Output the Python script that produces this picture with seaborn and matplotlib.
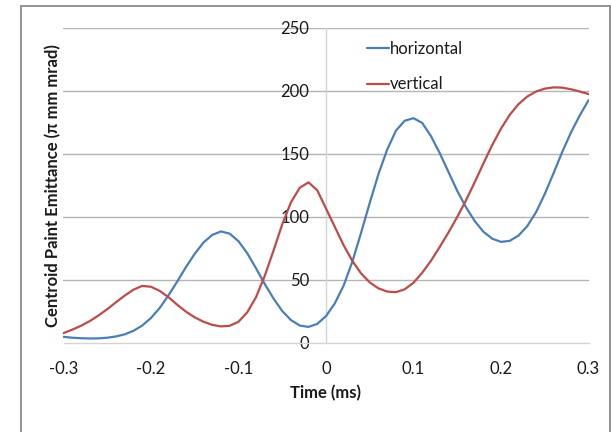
import numpy as np
import pandas as pd
import matplotlib
matplotlib.use("Agg")
import matplotlib.pyplot as plt
from matplotlib.patches import Rectangle
import seaborn as sns

# Time axis (ms) and centroid paint emittance (pi mm mrad) for each plane
time_ms = [round(-0.30 + 0.01 * i, 2) for i in range(61)]

horizontal = [
    4.5, 3.8, 3.4, 3.2, 3.3, 3.8, 4.8, 6.5, 9.3, 13.5,
    19.5, 27.5, 37.5, 48.5, 60.0, 70.5, 79.5, 85.5, 88.3, 86.5,
    80.5, 71.0, 59.0, 46.5, 35.0, 25.0, 17.8, 13.5, 12.4, 14.8,
    21.0, 31.0, 45.0, 64.0, 87.0, 111.0, 134.0, 153.5, 168.5, 176.3,
    178.3, 174.5, 164.0, 150.5, 135.5, 120.5, 107.5, 96.5, 88.0, 82.5,
    80.0, 80.8, 85.0, 92.5, 103.5, 118.0, 134.5, 151.5, 167.0, 180.5,
    192.5,
]

vertical = [
    7.5, 10.2, 13.3, 17.0, 21.5, 26.5, 32.0, 37.3, 42.0, 45.0,
    44.3, 41.0, 36.0, 30.0, 24.5, 20.0, 16.5, 14.0, 12.8, 13.3,
    16.5, 24.0, 36.0, 53.0, 73.0, 94.0, 111.5, 123.0, 127.3, 121.0,
    106.5, 92.0, 77.5, 65.0, 55.0, 47.8, 43.0, 40.5, 40.0, 42.3,
    47.5, 55.5, 65.0, 76.0, 87.5, 99.8, 113.0, 127.5, 142.5, 157.0,
    170.0, 181.0, 189.5, 195.5, 199.5, 201.8, 202.8, 202.6, 201.3, 199.5,
    197.5,
]

series_names = ["horizontal", "vertical"]
series_colors = ["#4A7EBB", "#BE4B48"]
x_ticks = [-0.3, -0.2, -0.1, 0.0, 0.1, 0.2, 0.3]
x_tick_labels = ["-0.3", "-0.2", "-0.1", "0", "0.1", "0.2", "0.3"]
y_ticks = [0, 50, 100, 150, 200, 250]

sns.set_style("white")
plt.rcParams["font.family"] = ["Lato", "DejaVu Sans"]

df = pd.DataFrame({
    "Time (ms)": time_ms * 2,
    "Emittance": horizontal + vertical,
    "plane": ["horizontal"] * len(time_ms) + ["vertical"] * len(time_ms),
})

fig = plt.figure(figsize=(6.11, 4.32), dpi=100)
ax = fig.add_axes([63.5 / 611, 89.5 / 432, 525 / 611, 314.5 / 432])

sns.lineplot(
    data=df, x="Time (ms)", y="Emittance", hue="plane",
    hue_order=series_names, palette=series_colors,
    linewidth=1.6, ax=ax, legend=True,
)

ax.set_xlim(-0.3, 0.3)
ax.set_ylim(0, 250)
ax.set_xticks(x_ticks)
ax.set_xticklabels(x_tick_labels)
ax.set_yticks(y_ticks)

# horizontal gridlines only
ax.grid(False)
for yv in y_ticks[1:]:
    ax.axhline(yv, color="#b4b4b4", lw=1.0, zorder=0)

# axes cross at the origin
for side in ["top", "right"]:
    ax.spines[side].set_visible(False)
ax.spines["left"].set_position(("data", 0))
ax.spines["bottom"].set_position(("data", 0))
ax.spines["left"].set_color("#d4d4d4")
ax.spines["bottom"].set_color("#d4d4d4")
ax.spines["left"].set_linewidth(1.0)
ax.spines["bottom"].set_linewidth(1.0)
ax.spines["left"].set_zorder(0)

text_color = "#1a1a1a"
ax.tick_params(axis="x", direction="out", length=4, width=1.0,
               color="#d4d4d4", pad=9, labelsize=12, labelcolor=text_color)
ax.tick_params(axis="y", length=0, pad=12, labelsize=12, labelcolor=text_color)

ax.set_xlabel("Time (ms)", fontsize=12, fontweight="bold", color=text_color, va="center")
ax.xaxis.set_label_coords(0.5, -0.16)
ax.set_ylabel("Centroid Paint Emittance (π mm mrad)", fontsize=12,
              fontweight="bold", color=text_color, va="center")
ax.yaxis.set_label_coords(-0.02, 0.5)

leg = ax.legend(
    loc="upper left", bbox_to_anchor=(0.578, 0.958), frameon=False,
    fontsize=12, handlelength=1.35, handletextpad=0.05, labelspacing=1.15,
    borderpad=0, borderaxespad=0,
)
for line in leg.get_lines():
    line.set_linewidth(1.6)
for txt in leg.get_texts():
    txt.set_color(text_color)

# outer chart border
fig.add_artist(Rectangle((21 / 611, -0.05), (610 - 21) / 611, (432 - 6) / 432 + 0.05,
                         transform=fig.transFigure, fill=False,
                         edgecolor="#8a8a8a", lw=1.3))

fig.savefig("out.png", dpi=100)
